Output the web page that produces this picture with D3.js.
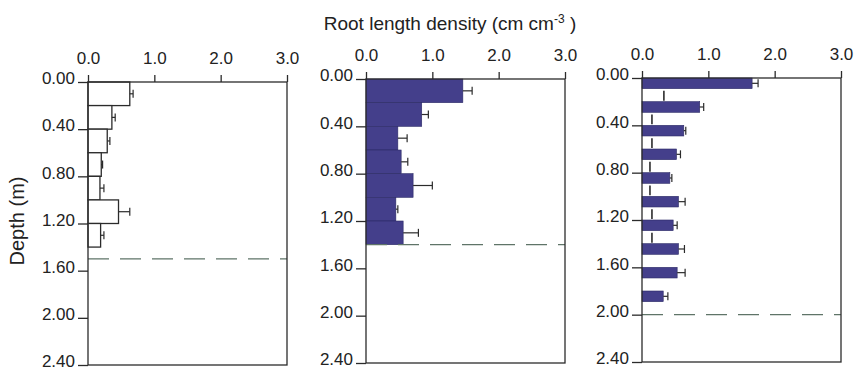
<!DOCTYPE html>
<html>
<head>
<meta charset="utf-8">
<script src="https://cdn.jsdelivr.net/npm/d3@7/dist/d3.min.js"></script>
<style>
  body { margin: 0; background: #fff; }
  svg { display: block; font-family: "Liberation Sans", Arial, sans-serif; }
</style>
</head>
<body>
<svg id="chart" width="855" height="370"></svg>
<script>
// axis ticks
const depthTicks = [0, 0.4, 0.8, 1.2, 1.6, 2.0, 2.4];
const densityTicks = [0, 1, 2, 3];

// panel 1 : 0.2 m layers, open bars
const p1Depth = [0, 0.2, 0.4, 0.6, 0.8, 1.0, 1.2];
const p1Value = [0.63, 0.36, 0.29, 0.20, 0.18, 0.46, 0.19];
const p1Err = [0.05, 0.05, 0.04, 0.02, 0.06, 0.17, 0.05];
const p1Limit = 1.5;

// panel 2 : 0.2 m layers, filled bars
const p2Depth = [0, 0.2, 0.4, 0.6, 0.8, 1.0, 1.2];
const p2Value = [1.46, 0.84, 0.48, 0.53, 0.71, 0.45, 0.56];
const p2Err = [0.14, 0.10, 0.14, 0.10, 0.29, 0.03, 0.23];
const p2Limit = 1.4;

// panel 3 : 0.1 m samples every 0.2 m, plus thin values in between
const p3Depth = [0, 0.2, 0.4, 0.6, 0.8, 1.0, 1.2, 1.4, 1.6, 1.8];
const p3Value = [1.66, 0.87, 0.63, 0.52, 0.42, 0.55, 0.47, 0.55, 0.53, 0.32];
const p3Err = [0.09, 0.06, 0.03, 0.06, 0.03, 0.10, 0.06, 0.09, 0.12, 0.07];
const p3GapDepth = [0.1, 0.3, 0.5, 0.7, 0.9, 1.1, 1.3];
const p3GapValue = [0.33, 0.15, 0.15, 0.12, 0.12, 0.15, 0.15];
const p3Limit = 2.0;

const barFill = "#443f8b";
const ink = "#2b2b2b";

const svg = d3.select("#chart");

const panels = [
  { x0: 88, x1: 287, y0: 82, y1: 365, depth: p1Depth, value: p1Value, err: p1Err, thick: 0.2, fill: "#fff", limit: p1Limit },
  { x0: 366, x1: 565, y0: 79, y1: 363, depth: p2Depth, value: p2Value, err: p2Err, thick: 0.2, fill: barFill, limit: p2Limit },
  { x0: 642, x1: 841, y0: 78, y1: 362, depth: p3Depth, value: p3Value, err: p3Err, thick: 0.09, fill: barFill, limit: p3Limit,
    gapDepth: p3GapDepth, gapValue: p3GapValue }
];

panels.forEach(function(p) {
  const x = d3.scaleLinear().domain([0, 3]).range([p.x0, p.x1]);
  const y = d3.scaleLinear().domain([0, 2.4]).range([p.y0, p.y1]);
  const g = svg.append("g");

  // bars
  g.selectAll("rect.bar")
    .data(p.value)
    .enter().append("rect")
    .attr("class", "bar")
    .attr("x", x(0))
    .attr("y", (d, i) => y(p.depth[i]))
    .attr("width", d => x(d) - x(0))
    .attr("height", (d, i) => y(p.depth[i] + p.thick) - y(p.depth[i]))
    .attr("fill", p.fill)
    .attr("stroke", p.fill === "#fff" ? ink : "#2c2a66")
    .attr("stroke-width", p.fill === "#fff" ? 1.3 : 0.6);

  // error bars
  const eb = g.selectAll("g.err")
    .data(p.value)
    .enter().append("g")
    .attr("class", "err")
    .attr("stroke", ink)
    .attr("stroke-width", 1.2);
  eb.append("line")
    .attr("x1", d => x(d))
    .attr("x2", (d, i) => x(d + p.err[i]))
    .attr("y1", (d, i) => y(p.depth[i] + p.thick / 2))
    .attr("y2", (d, i) => y(p.depth[i] + p.thick / 2));
  eb.append("line")
    .attr("x1", (d, i) => x(d + p.err[i]))
    .attr("x2", (d, i) => x(d + p.err[i]))
    .attr("y1", (d, i) => y(p.depth[i] + p.thick / 2) - 4)
    .attr("y2", (d, i) => y(p.depth[i] + p.thick / 2) + 4);

  // thin values between sampled layers
  if (p.gapValue) {
    g.selectAll("line.gap")
      .data(p.gapValue)
      .enter().append("line")
      .attr("class", "gap")
      .attr("x1", d => x(d))
      .attr("x2", d => x(d))
      .attr("y1", (d, i) => y(p.gapDepth[i]) + 1)
      .attr("y2", (d, i) => y(p.gapDepth[i] + 0.1) - 1)
      .attr("stroke", ink)
      .attr("stroke-width", 1.6);
  }

  // dashed limit line
  g.append("line")
    .attr("x1", x(0)).attr("x2", x(3))
    .attr("y1", y(p.limit)).attr("y2", y(p.limit))
    .attr("stroke", "#5f7468")
    .attr("stroke-width", 1.3)
    .attr("stroke-dasharray", "21,11");

  // frame
  g.append("rect")
    .attr("x", x(0)).attr("y", y(0))
    .attr("width", x(3) - x(0)).attr("height", y(2.4) - y(0))
    .attr("fill", "none")
    .attr("stroke", ink)
    .attr("stroke-width", 1.3);

  const top = g.append("g")
    .attr("transform", "translate(0," + y(0) + ")")
    .call(d3.axisTop(x).tickValues(densityTicks).tickFormat(d3.format(".1f")).tickSize(7).tickPadding(11));
  const left = g.append("g")
    .attr("transform", "translate(" + x(0) + ",0)")
    .call(d3.axisLeft(y).tickValues(depthTicks).tickFormat(d3.format(".2f")).tickSize(10).tickPadding(3));

  [top, left].forEach(function(a) {
    a.select(".domain").remove();
    a.selectAll("line").attr("stroke", ink).attr("stroke-width", 1.3);
    a.selectAll("text")
      .attr("fill", "#222")
      .style("font-size", "17px")
      .style("font-family", "'Liberation Sans', Arial, sans-serif");
  });
  // depth labels sit a little above their ticks
  left.selectAll("text").attr("dy", "0.1em");
});

// titles
const title = svg.append("text")
  .attr("x", 450).attr("y", 30)
  .attr("text-anchor", "middle")
  .attr("fill", "#222")
  .style("font-size", "19px");
title.append("tspan").text("Root length density (cm cm");
title.append("tspan").attr("dy", -7).style("font-size", "12px").text("-3");
title.append("tspan").attr("dy", 7).text(" )");

svg.append("text")
  .attr("transform", "translate(24,221) rotate(-90)")
  .attr("text-anchor", "middle")
  .attr("fill", "#222")
  .style("font-size", "20px")
  .text("Depth (m)");
</script>
</body>
</html>
